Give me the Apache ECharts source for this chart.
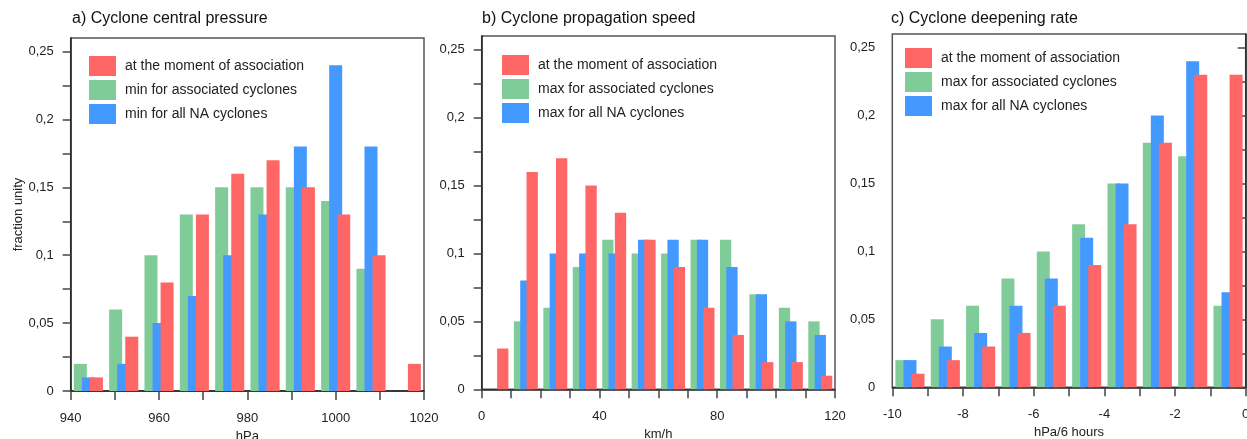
<!DOCTYPE html>
<html>
<head>
<meta charset="utf-8">
<script src="https://cdn.jsdelivr.net/npm/echarts@6/dist/echarts.min.js"></script>
<style>
html,body{margin:0;padding:0;background:#fff;}
#main{width:1247px;height:439px;}
</style>
</head>
<body>
<div id="main"></div>
<script>
// a) central pressure, 10 bins 940-1020
var aBins = ['944', '952', '960', '968', '976', '984', '992', '1000', '1008', '1016'];
var aRed = [0.01, 0.04, 0.08, 0.13, 0.16, 0.17, 0.15, 0.13, 0.10, 0.02];
var aGreen = [0.02, 0.06, 0.10, 0.13, 0.15, 0.15, 0.15, 0.14, 0.09, 0];
var aBlue = [0.01, 0.02, 0.05, 0.07, 0.10, 0.13, 0.18, 0.24, 0.18, 0];

// b) propagation speed, 12 bins 0-120
var bBins = ['5', '15', '25', '35', '45', '55', '65', '75', '85', '95', '105', '115'];
var bRed = [0.03, 0.16, 0.17, 0.15, 0.13, 0.11, 0.09, 0.06, 0.04, 0.02, 0.02, 0.01];
var bGreen = [0, 0.05, 0.06, 0.09, 0.11, 0.10, 0.10, 0.11, 0.11, 0.07, 0.06, 0.05];
var bBlue = [0, 0.08, 0.10, 0.10, 0.10, 0.11, 0.11, 0.11, 0.09, 0.07, 0.05, 0.04];

// c) deepening rate, 10 bins -10..0
var cBins = ['-9.5', '-8.5', '-7.5', '-6.5', '-5.5', '-4.5', '-3.5', '-2.5', '-1.5', '-0.5'];
var cRed = [0.01, 0.02, 0.03, 0.04, 0.06, 0.09, 0.12, 0.18, 0.23, 0.23];
var cGreen = [0.02, 0.05, 0.06, 0.08, 0.10, 0.12, 0.15, 0.18, 0.17, 0.06];
var cBlue = [0.02, 0.03, 0.04, 0.06, 0.08, 0.11, 0.15, 0.20, 0.24, 0.07];

var yTicks = [0, 0.025, 0.05, 0.075, 0.1, 0.125, 0.15, 0.175, 0.2, 0.225, 0.25];
var yLabels = [0, 0.05, 0.1, 0.15, 0.2, 0.25];
var aTicks = [940, 950, 960, 970, 980, 990, 1000, 1010, 1020];
var aLabels = [940, 960, 980, 1000, 1020];
var bTicks = [0, 10, 20, 30, 40, 50, 60, 70, 80, 90, 100, 110, 120];
var bLabels = [0, 40, 80, 120];
var cTicks = [-10, -9, -8, -7, -6, -5, -4, -3, -2, -1, 0];
var cLabels = [-10, -8, -6, -4, -2, 0];

var FONT = 'Liberation Sans';
var RED = '#ff6666', GREEN = '#80cc99', BLUE = '#4499ff';

var panels = [
	{
		title: 'a) Cyclone central pressure', xName: 'hPa', yName: 'fraction unity',
		bins: aBins, red: aRed, green: aGreen, blue: aBlue,
		min: 940, max: 1020, ticks: aTicks, labels: aLabels,
		names: ['at the moment of association', 'min for associated cyclones', 'min for all NA cyclones'],
		grid: {left: 70.7, top: 38, width: 353.3, height: 353},
		legend: {left: 89, top: 56}, titlePos: {left: 72, top: 11},
		barWidth: 13, barGap: '-38%'
	},
	{
		title: 'b) Cyclone propagation speed', xName: 'km/h', yName: '',
		bins: bBins, red: bRed, green: bGreen, blue: bBlue,
		min: 0, max: 120, ticks: bTicks, labels: bLabels,
		names: ['at the moment of association', 'max for associated cyclones', 'max for all NA cyclones'],
		grid: {left: 481.7, top: 36, width: 353.3, height: 353.3},
		legend: {left: 502, top: 55}, titlePos: {left: 482, top: 11},
		barWidth: 11.3, barGap: '-44%'
	},
	{
		title: 'c) Cyclone deepening rate', xName: 'hPa/6 hours', yName: '',
		bins: cBins, red: cRed, green: cGreen, blue: cBlue,
		min: -10, max: 0, ticks: cTicks, labels: cLabels,
		names: ['at the moment of association', 'max for associated cyclones', 'max for all NA cyclones'],
		grid: {left: 892.3, top: 34, width: 353.4, height: 353.3},
		legend: {left: 905, top: 48}, titlePos: {left: 891, top: 11},
		barWidth: 13, barGap: '-38%'
	}
];

function commaNum(v){
	return String(parseFloat(v.toFixed(3))).replace('.', ',');
}

function plainNum(v){
	return String(v);
}

var option = {
	animation: false,
	backgroundColor: '#fff',
	textStyle: {fontFamily: FONT},
	title: [], grid: [], xAxis: [], yAxis: [], legend: [], series: []
};

panels.forEach(function(p, i){
	option.title.push({
		text: p.title, left: p.titlePos.left, top: p.titlePos.top, padding: 0,
		textStyle: {fontFamily: FONT, fontSize: 16, fontWeight: 'normal', color: '#111'}
	});
	option.grid.push({
		left: p.grid.left, top: p.grid.top, width: p.grid.width, height: p.grid.height,
		outerBoundsMode: 'none', containLabel: false,
		show: true, borderColor: '#555', borderWidth: 1.5, backgroundColor: 'transparent'
	});
	// hidden category axis carrying the bars
	option.xAxis.push({
		type: 'category', gridIndex: i, data: p.bins, show: false, boundaryGap: true
	});
	// visible value axis for ticks and labels
	option.xAxis.push({
		type: 'value', gridIndex: i, min: p.min, max: p.max, position: 'bottom',
		name: p.xName, nameLocation: 'middle', nameGap: 38,
		nameTextStyle: {fontFamily: FONT, fontSize: 13, color: '#222'},
		axisLine: {show: true, lineStyle: {color: '#222', width: 1.5}},
		axisTick: {show: true, inside: false, length: 9, customValues: p.ticks, lineStyle: {color: '#444', width: 1.5}},
		axisLabel: {customValues: p.labels, formatter: plainNum, margin: 21, fontSize: 13, color: '#222', fontFamily: FONT},
		splitLine: {show: false}
	});
	option.yAxis.push({
		type: 'value', gridIndex: i, min: 0, max: 0.26,
		name: p.yName, nameLocation: 'middle', nameGap: 46, nameRotate: 90,
		nameTextStyle: {fontFamily: FONT, fontSize: 13, color: '#222'},
		axisLine: {show: true, lineStyle: {color: '#222', width: 1.5}},
		axisTick: {show: true, inside: false, length: 8, customValues: yTicks, lineStyle: {color: '#444', width: 1.5}},
		axisLabel: {customValues: yLabels, formatter: commaNum, margin: 17, fontSize: 13, color: '#222', fontFamily: FONT},
		splitLine: {show: false}
	});
	option.legend.push({
		orient: 'vertical', left: p.legend.left, top: p.legend.top, padding: 0,
		itemWidth: 27, itemHeight: 20, itemGap: 4, icon: 'rect', selectedMode: false,
		data: p.names,
		textStyle: {fontFamily: FONT, fontSize: 14, color: '#222', padding: [0, 0, 0, 4]}
	});
	// drawn green, blue, red so red sits on top
	var sets = [[p.names[1], p.green, GREEN], [p.names[2], p.blue, BLUE], [p.names[0], p.red, RED]];
	sets.forEach(function(s){
		option.series.push({
			type: 'bar', name: s[0], data: s[1],
			xAxisIndex: i * 2, yAxisIndex: i,
			barWidth: p.barWidth, barGap: p.barGap,
			itemStyle: {color: s[2]},
			emphasis: {disabled: true}
		});
	});
});

var chart = echarts.init(document.getElementById('main'), null, {renderer: 'canvas'});
chart.setOption(option);
</script>
</body>
</html>
